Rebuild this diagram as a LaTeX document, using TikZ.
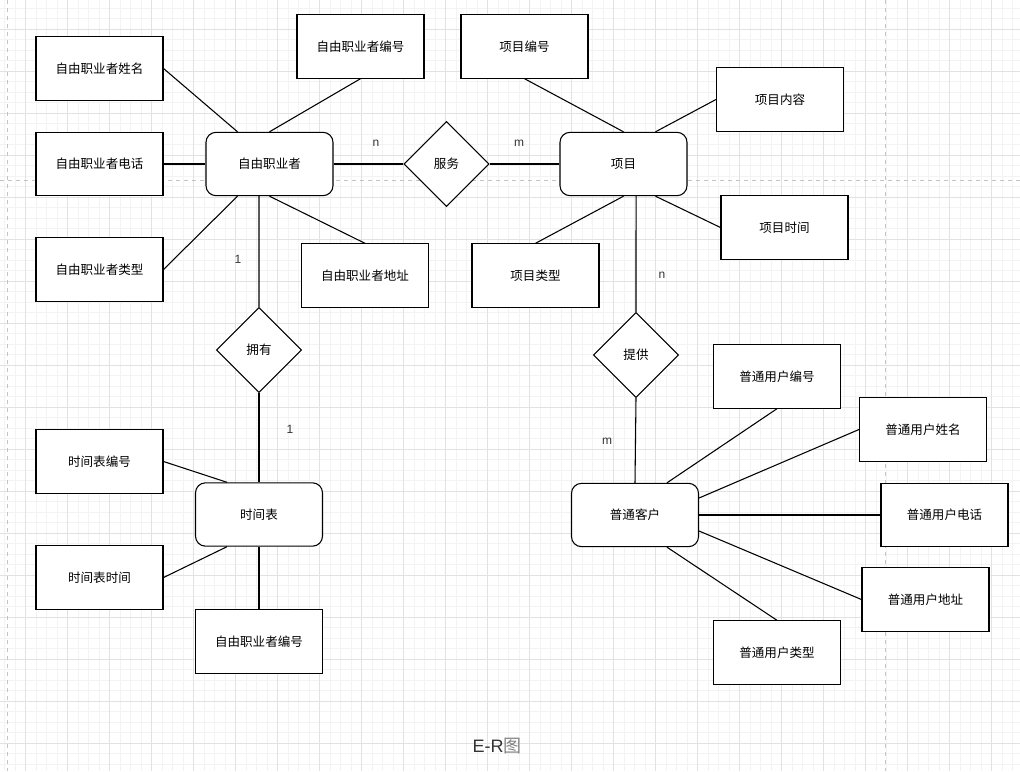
\documentclass[tikz,border=0pt]{standalone}
\usepackage{fontspec}
\setmainfont{Liberation Sans}
\newfontfamily\cjk{Noto Sans CJK SC}
\usetikzlibrary{shapes.geometric}
\definecolor{minorgrid}{HTML}{F3F3F3}
\definecolor{majorgrid}{HTML}{E2E2E2}
\definecolor{pagebreak}{HTML}{C4C4C4}
\definecolor{labeltext}{HTML}{333333}
\tikzset{
 attr/.style={draw,line width=0.8pt,fill=white,minimum width=95.25pt,minimum height=47.5pt,inner sep=0pt,font=\cjk\fontsize{9.4pt}{11pt}\selectfont},
 entity/.style={attr,rounded corners=7.5pt},
 rel/.style={draw,line width=0.8pt,fill=white,diamond,aspect=1,minimum size=64pt,inner sep=0pt,font=\cjk\fontsize{9.4pt}{11pt}\selectfont},
 link/.style={line width=0.8pt},
 card/.style={text=labeltext,font=\fontsize{9pt}{10pt}\selectfont}
}
\begin{document}
\begin{tikzpicture}[x=0.75pt,y=-0.75pt]
 \useasboundingbox (0,0) rectangle (1020,771);
 % grid
 \foreach \k in {-2,...,94} \draw[minorgrid,line width=0.6pt] (25.7+10.5*\k,0) -- (25.7+10.5*\k,771);
 \foreach \k in {-2,...,70} \draw[minorgrid,line width=0.6pt] (0,29+10.5*\k) -- (1020,29+10.5*\k);
 \foreach \k in {0,...,23} \draw[majorgrid,line width=0.6pt] (25.7+42*\k,0) -- (25.7+42*\k,771);
 \foreach \k in {0,...,17} \draw[majorgrid,line width=0.6pt] (0,29+42*\k) -- (1020,29+42*\k);
 \draw[pagebreak,dashed,line width=0.6pt] (7,0) -- (7,771);
 \draw[pagebreak,dashed,line width=0.6pt] (885,0) -- (885,771);
 \draw[pagebreak,dashed,line width=0.6pt] (0,180) -- (1020,180);

 % freelancer
 \node[entity] (free) at (269.5,164) {自由职业者};
 \node[attr] (fname) at (99.5,68.5) {自由职业者姓名};
 \node[attr] (fno) at (360.5,46.5) {自由职业者编号};
 \node[attr] (ftel) at (99.5,164) {自由职业者电话};
 \node[attr] (ftype) at (99.5,269.5) {自由职业者类型};
 \node[attr] (faddr) at (365,275.5) {自由职业者地址};
 \draw[link] (fname.east) -- ([xshift=-24pt]free.north);
 \draw[link] (fno.south) -- (free.north);
 \draw[link] (ftel.east) -- (free.west);
 \draw[link] (ftype.east) -- ([xshift=-24pt]free.south);
 \draw[link] (faddr.north) -- (free.south);

 % project
 \node[rel] (serve) at (446.5,164) {服务};
 \node[entity] (proj) at (623.5,164) {项目};
 \node[attr] (pno) at (524.5,46.5) {项目编号};
 \node[attr] (pcont) at (780,99.5) {项目内容};
 \node[attr] (ptime) at (784.5,227.5) {项目时间};
 \node[attr] (ptype) at (535.5,275.5) {项目类型};
 \draw[link] (free.east) -- (serve.west);
 \draw[link] (serve.east) -- (proj.west);
 \draw[link] (pno.south) -- (proj.north);
 \draw[link] (pcont.west) -- ([xshift=24pt]proj.north);
 \draw[link] (ptime.west) -- ([xshift=24pt]proj.south);
 \draw[link] (ptype.north) -- (proj.south);
 \node[card] (cardn1) at (376,143) {n};
 \node[card] (cardm1) at (519,143) {m};

 % schedule
 \node[rel] (own) at (259,350) {拥有};
 \node[entity] (sched) at (259,514.5) {时间表};
 \node[attr] (sno) at (99.5,461.5) {时间表编号};
 \node[attr] (stime) at (99.5,577.5) {时间表时间};
 \node[attr] (sfno) at (259,641.5) {自由职业者编号};
 \draw[link] ([xshift=-7.9pt]free.south) -- (own.north);
 \draw[link] (own.south) -- (sched.north);
 \draw[link] (sno.east) -- ([xshift=-24pt]sched.north);
 \draw[link] (stime.east) -- ([xshift=-24pt]sched.south);
 \draw[link] (sfno.north) -- (sched.south);
 \node[card] (card11) at (238,259) {1};
 \node[card] (card12) at (290,429) {1};

 % customer
 \node[rel] (provide) at (636,355) {提供};
 \node[entity] (cust) at (635,515) {普通客户};
 \node[attr] (uno) at (777,376.5) {普通用户编号};
 \node[attr] (uname) at (923,429.5) {普通用户姓名};
 \node[attr] (utel) at (944.5,515) {普通用户电话};
 \node[attr] (uaddr) at (925.5,599.5) {普通用户地址};
 \node[attr] (utype) at (777,652.5) {普通用户类型};
 \draw[link] ([xshift=9.4pt]proj.south) -- (provide.north);
 \draw[link] (provide.south) -- (cust.north);
 \draw[link] (uno.south) -- ([xshift=24pt]cust.north);
 \draw[link] (uname.west) -- ([yshift=12.75pt]cust.east);
 \draw[link] (utel.west) -- (cust.east);
 \draw[link] (uaddr.west) -- ([yshift=-12pt]cust.east);
 \draw[link] (utype.north) -- ([xshift=24pt]cust.south);
 \node[card] (cardn2) at (662,275) {n};
 \node[card] (cardm2) at (607,441) {m};

 \node[text=labeltext,font=\fontsize{13.5pt}{15pt}\selectfont] (title) at (497,746) {E-R{\cjk\color{gray}图}};
\end{tikzpicture}
\end{document}
